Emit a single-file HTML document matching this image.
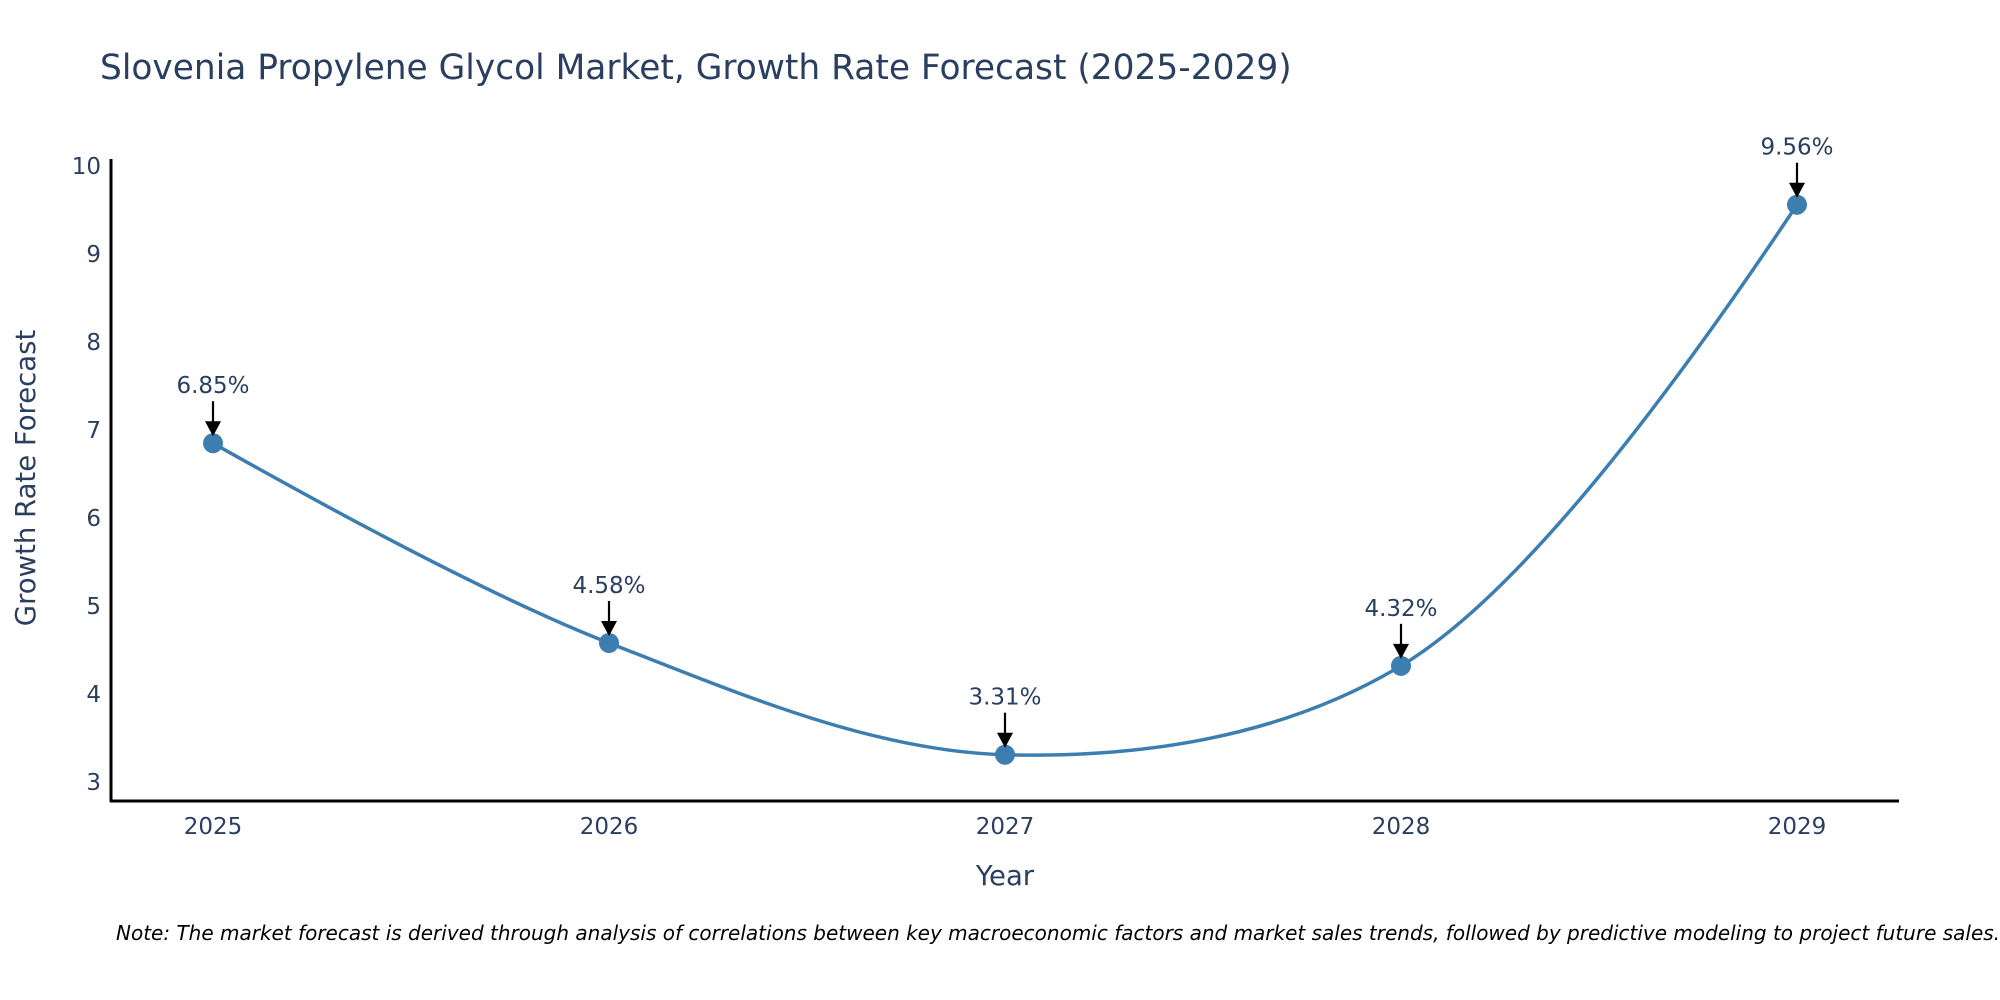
<!DOCTYPE html>
<html><head><meta charset="utf-8"><style>
body{margin:0;background:#fff}
svg{display:block;font-family:"DejaVu Sans","Liberation Sans",sans-serif}
</style></head><body>
<svg id="chart" width="2000" height="1000">
<text x="100" y="79" font-size="34.4" fill="#2a3f5f">Slovenia Propylene Glycol Market, Growth Rate Forecast (2025-2029)</text>
<g id="yticks"></g><g id="xticks"></g>
<line x1="111" y1="159" x2="111" y2="802" stroke="#000" stroke-width="3"/>
<line x1="110" y1="801" x2="1899" y2="801" stroke="#000" stroke-width="3"/>
<text transform="translate(35,478) rotate(-90)" text-anchor="middle" font-size="27.5" fill="#2a3f5f">Growth Rate Forecast</text>
<text x="1005" y="885" text-anchor="middle" font-size="27.5" fill="#2a3f5f">Year</text>
<g id="series"></g>
<text x="116" y="940" font-size="20" font-style="italic" fill="#000">Note: The market forecast is derived through analysis of correlations between key macroeconomic factors and market sales trends, followed by predictive modeling to project future sales.</text>
</svg>
<script>
const years=["2025","2026","2027","2028","2029"];
const values=[6.85,4.58,3.31,4.32,9.56];
const labels=["6.85%","4.58%","3.31%","4.32%","9.56%"];
const yTicks=[3,4,5,6,7,8,9,10];
const NS="http://www.w3.org/2000/svg";
const X=i=>213+i*396;
const Y=v=>782-(v-3)*88;
function mk(t,a,p){const e=document.createElementNS(NS,t);for(const k in a)e.setAttribute(k,a[k]);p.appendChild(e);return e;}
const yt=document.getElementById('yticks');
yTicks.forEach(v=>{const t=mk('text',{x:101,y:Y(v)+8,'text-anchor':'end','font-size':23,fill:'#2a3f5f'},yt);t.textContent=v;

});
const xt=document.getElementById('xticks');
years.forEach((y,i)=>{const t=mk('text',{x:X(i),y:834,'text-anchor':'middle','font-size':23,fill:'#2a3f5f'},xt);t.textContent=y;

});
const g=document.getElementById('series');
const P=values.map((v,i)=>[X(i),Y(v)]);
function tangent(a,b,c,s){const d1x=a[0]-b[0],d1y=a[1]-b[1],d2x=c[0]-b[0],d2y=c[1]-b[1];
const d1a=Math.pow(d1x*d1x+d1y*d1y,0.25),d2a=Math.pow(d2x*d2x+d2y*d2y,0.25);
const nx=(d2a*d2a*d1x-d1a*d1a*d2x)*s,ny=(d2a*d2a*d1y-d1a*d1a*d2y)*s;
const e1=3*d2a*(d1a+d2a),e2=3*d1a*(d1a+d2a);
return [[b[0]+nx/e1,b[1]+ny/e1],[b[0]-nx/e2,b[1]-ny/e2]];}
const T=[];for(let i=1;i<P.length-1;i++)T.push(tangent(P[i-1],P[i],P[i+1],1));
let d=`M${P[0]}Q${T[0][0]} ${P[1]}`;
for(let i=2;i<P.length-1;i++)d+=`C${T[i-2][1]} ${T[i-1][0]} ${P[i]}`;
d+=`Q${T[P.length-3][1]} ${P[P.length-1]}`;
const line=mk('path',{d:d,fill:'none',stroke:'#3d7eb0','stroke-width':3.5},g);


P.forEach((p,i)=>{
const c=mk('circle',{cx:p[0],cy:p[1],r:10,fill:'#3d7eb0'},g);


const a=mk('line',{x1:p[0],y1:p[1]-42,x2:p[0],y2:p[1]-20,stroke:'#000','stroke-width':2.2},g);


const h=mk('polygon',{points:`${p[0]-8},${p[1]-22} ${p[0]+8},${p[1]-22} ${p[0]},${p[1]-7}`,fill:'#000'},g);


const t=mk('text',{x:p[0],y:p[1]-50,'text-anchor':'middle','font-size':23,fill:'#2a3f5f'},g);t.textContent=labels[i];


});
</script>
</body></html>
